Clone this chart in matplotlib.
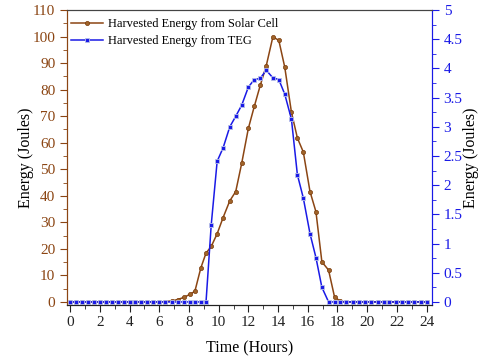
import matplotlib
matplotlib.use("Agg")
import matplotlib.pyplot as plt
from matplotlib.ticker import MultipleLocator

plt.rcParams['font.family'] = ['Liberation Serif', 'DejaVu Serif']

# time of each sample (hours)
hours = [0.0, 0.4, 0.8, 1.2, 1.6, 2.0, 2.4, 2.8, 3.2, 3.6, 4.0, 4.4, 4.8, 5.2, 5.6, 6.0,
         6.4, 6.85, 7.25, 7.65, 8.05, 8.4, 8.8, 9.15, 9.5, 9.9, 10.3, 10.75, 11.15, 11.55,
         12.0, 12.4, 12.8, 13.2, 13.65, 14.05, 14.45, 14.9, 15.3, 15.7, 16.15, 16.55, 16.95,
         17.4, 17.8, 18.2, 18.6, 19.05, 19.45, 19.85, 20.25, 20.7, 21.1, 21.5, 21.95, 22.35,
         22.75, 23.15, 23.6, 24.0]

solar = [0, 0, 0, 0, 0, 0, 0, 0, 0, 0, 0, 0, 0, 0, 0, 0,
         0.1, 0.4, 0.9, 1.7, 2.8, 4.0, 12.8, 18.4, 20.9, 25.7, 31.8, 38.1, 41.6, 52.2,
         65.4, 73.7, 81.6, 88.9, 99.9, 98.6, 88.5, 71.5, 61.8, 56.5, 41.6, 34.0, 15.1,
         12.0, 1.9, 0.2, 0, 0, 0, 0, 0, 0, 0, 0, 0, 0,
         0, 0, 0, 0]

teg = [0, 0, 0, 0, 0, 0, 0, 0, 0, 0, 0, 0, 0, 0, 0, 0,
       0, 0, 0, 0, 0, 0, 0, 0, 1.32, 2.41, 2.64, 3.0, 3.18, 3.37,
       3.68, 3.81, 3.83, 3.97, 3.84, 3.81, 3.56, 3.13, 2.18, 1.78, 1.17, 0.76, 0.25,
       0, 0, 0, 0, 0, 0, 0, 0, 0, 0, 0, 0, 0,
       0, 0, 0, 0]

brown = "#8b4513"
blue = "#1a1ae6"

fig = plt.figure(figsize=(4.83, 3.6), dpi=100)
ax = fig.add_axes([0.139, 0.154, 0.755, 0.818])
ax2 = ax.twinx()

l1, = ax.plot(hours, solar, color=brown, lw=1.1, marker='o', ms=3,
              mfc="#a0642a", mec="#7a3a0a", mew=0.5, label="Harvested Energy from Solar Cell")
l2, = ax2.plot(hours, teg, color=blue, lw=1.1, marker='s', ms=3,
               mfc=blue, mec="#b8c0e8", mew=0.6, label="Harvested Energy from TEG")

ax.set_xlim(-0.2, 24.35)
ax.set_ylim(-1, 110)
ax2.set_ylim(-0.045, 5)

ax.xaxis.set_major_locator(MultipleLocator(2))
ax.xaxis.set_minor_locator(MultipleLocator(1))
ax.yaxis.set_major_locator(MultipleLocator(10))
ax.yaxis.set_minor_locator(MultipleLocator(5))
ax2.yaxis.set_major_locator(MultipleLocator(0.5))
ax2.yaxis.set_minor_locator(MultipleLocator(0.25))
ax2.yaxis.set_major_formatter(plt.FuncFormatter(lambda v, p: ('%g' % v)))

ax.tick_params(axis='x', which='major', length=5, labelsize=11, colors='#222222')
ax.tick_params(axis='x', which='minor', length=3, color='#222222')
ax.tick_params(axis='y', which='major', length=5, labelsize=11, colors=brown)
ax.tick_params(axis='y', which='minor', length=3, color=brown)
ax2.tick_params(axis='y', which='major', length=5, labelsize=11, colors=blue)
ax2.tick_params(axis='y', which='minor', length=3, color=blue)

for a in (ax, ax2):
    a.spines['left'].set_color(brown)
    a.spines['right'].set_color(blue)
    a.spines['top'].set_color('#444444')
    a.spines['bottom'].set_color('#222222')

ax.set_xlabel("Time (Hours)", fontsize=11.5, labelpad=8)
ax.set_ylabel("Energy (Joules)", fontsize=11.5, labelpad=-1)
ax2.set_ylabel("Energy (Joules)", fontsize=11.5, labelpad=0)

ax.legend(handles=[l1, l2], loc='upper left', bbox_to_anchor=(0.0, 0.986),
          frameon=False, fontsize=9, handlelength=2.6, handletextpad=0.35,
          borderpad=0.2, borderaxespad=0.1, labelspacing=0.4)

fig.savefig("out.png", dpi=100)
